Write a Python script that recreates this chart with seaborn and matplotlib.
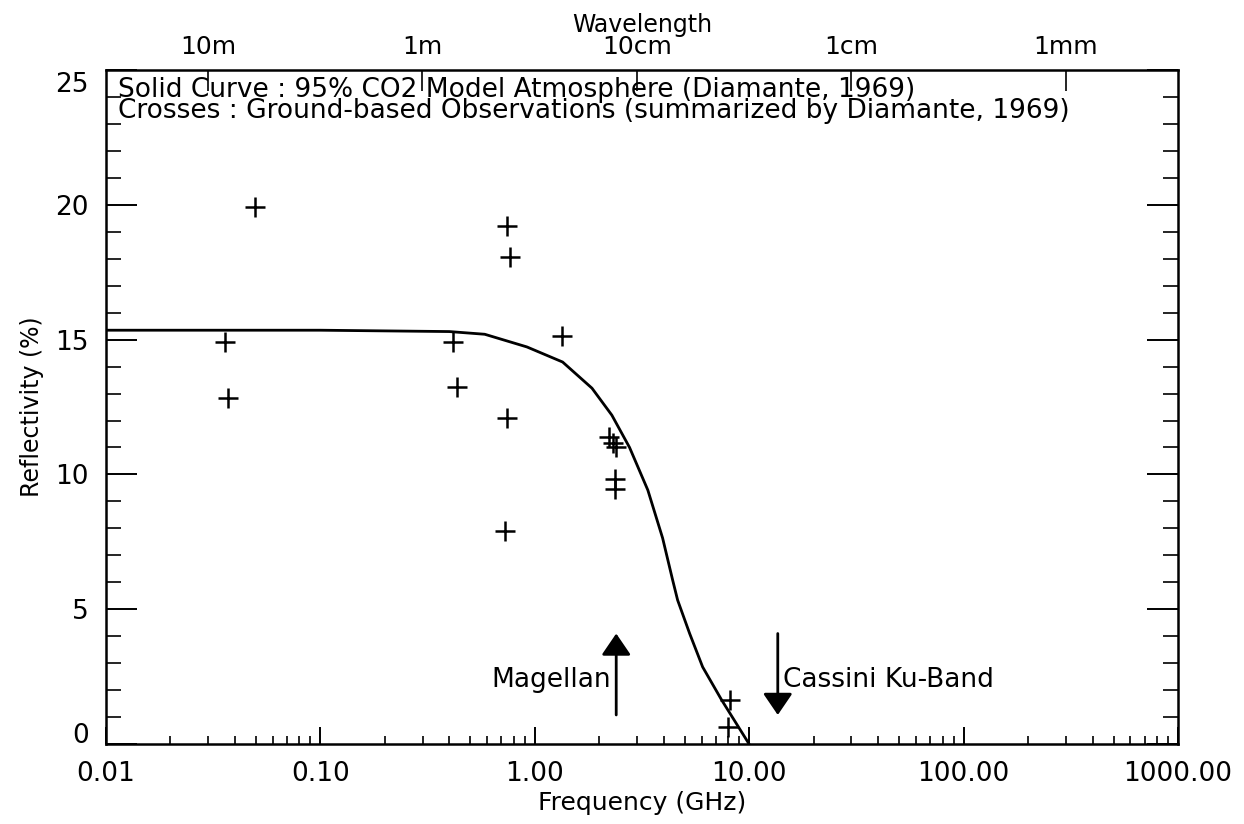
import numpy as np
import pandas as pd
import seaborn as sns
import matplotlib
matplotlib.use("Agg")
import matplotlib.pyplot as plt
from matplotlib.ticker import FixedLocator, NullLocator, LogLocator, FixedFormatter
from matplotlib.transforms import ScaledTranslation

# model curve (Diamante, 1969), 95% CO2 atmosphere
model_freq = [0.01, 0.1, 0.4, 0.585, 0.92, 1.35, 1.85, 2.29, 2.77, 3.37, 3.95, 4.4, 4.64, 5.28, 6.07, 7.45, 10.0]
model_refl = [15.35, 15.35, 15.3, 15.2, 14.73, 14.17, 13.2, 12.2, 11.0, 9.42, 7.64, 6.08, 5.34, 4.1, 2.86, 1.63, 0.0]

# ground-based observations
obs_freq = [0.036, 0.037, 0.0496, 0.415, 0.433, 0.74, 0.764, 0.74, 0.724, 1.336,
            2.21, 2.31, 2.39, 2.36, 2.36, 8.1, 8.0]
obs_refl = [14.9, 12.83, 19.92, 14.9, 13.24, 19.2, 18.06, 12.09, 7.9, 15.13,
            11.39, 11.16, 11.0, 9.83, 9.46, 1.63, 0.63]

# instrument frequencies (GHz)
magellan_f = 2.4
cassini_f = 13.6

# top axis: wavelength labels
wl_m = [10.0, 1.0, 0.1, 0.01, 0.001]
wl_labels = ["10m", "1m", "10cm", "1cm", "1mm"]
c_light = 0.2998  # m*GHz

x_ticks = [0.01, 0.1, 1, 10, 100, 1000]
x_ticklabels = ["0.01", "0.10", "1.00", "10.00", "100.00", "1000.00"]
y_ticks = [0, 5, 10, 15, 20, 25]

model_df = pd.DataFrame({"freq": model_freq, "refl": model_refl})
obs_df = pd.DataFrame({"freq": obs_freq, "refl": obs_refl})

sns.set_style("white")
plt.rcParams["font.family"] = ["DejaVu Sans"]
plt.rcParams.update({
    "axes.linewidth": 1.8,
    "axes.edgecolor": "black",
    "text.color": "black",
    "axes.labelcolor": "black",
    "xtick.color": "black",
    "ytick.color": "black",
})

fig = plt.figure(figsize=(12.44, 8.24), dpi=100)
ax = fig.add_axes([0.085, 0.097, 0.862, 0.818])

sns.lineplot(data=model_df, x="freq", y="refl", color="black", linewidth=2, ax=ax, sort=False)
sns.scatterplot(data=obs_df, x="freq", y="refl", marker="+", s=210, color="black",
                linewidth=1.8, ax=ax)

ax.set_xscale("log")
ax.set_xlim(0.01, 1000)
ax.set_ylim(0, 25)

ax.xaxis.set_major_locator(FixedLocator(x_ticks))
ax.xaxis.set_major_formatter(FixedFormatter(x_ticklabels))
ax.xaxis.set_minor_locator(LogLocator(base=10, subs=np.arange(2, 10)))
ax.xaxis.set_minor_formatter(plt.NullFormatter())
ax.set_yticks(y_ticks)
ax.set_yticks(np.arange(0, 26, 1), minor=True)

ax.tick_params(axis="x", which="major", direction="in", length=12, width=1.4,
               labelsize=19, pad=12, bottom=True, top=False)
ax.tick_params(axis="x", which="minor", direction="in", length=6, width=1.2,
               bottom=True, top=False)
ax.tick_params(axis="y", which="major", direction="in", length=22, width=1.4,
               labelsize=19, pad=12, left=True, right=True)
ax.tick_params(axis="y", which="minor", direction="in", length=11, width=1.2,
               left=True, right=True)

ax.set_xlabel("Frequency (GHz)", fontsize=18, labelpad=3)
ax.set_ylabel("Reflectivity (%)", fontsize=17, labelpad=8)

# IDL-style: end labels pulled inside the axis range
ylabels = ax.get_yticklabels()
ylabels[0].set_transform(ylabels[0].get_transform() + ScaledTranslation(0, 0.11, fig.dpi_scale_trans))
ylabels[-1].set_transform(ylabels[-1].get_transform() + ScaledTranslation(0, -0.12, fig.dpi_scale_trans))

# top wavelength axis
top = ax.twiny()
top.set_xscale("log")
top.set_xlim(ax.get_xlim())
top.xaxis.set_major_locator(FixedLocator([c_light / w for w in wl_m]))
top.xaxis.set_major_formatter(FixedFormatter(wl_labels))
top.xaxis.set_minor_locator(NullLocator())
top.tick_params(axis="x", which="major", direction="in", length=15, width=1.2,
                labelsize=18, pad=8)
top.set_xlabel("Wavelength", fontsize=17, labelpad=2)
for s in top.spines.values():
    s.set_visible(False)

# notes
ax.text(0.011, 0.99, "Solid Curve : 95% CO2 Model Atmosphere (Diamante, 1969)\n"
        "Crosses : Ground-based Observations (summarized by Diamante, 1969)",
        transform=ax.transAxes, fontsize=19, va="top", ha="left", linespacing=0.78)

# instrument arrows
arrow_kw = dict(arrowstyle="-|>,head_length=1.1,head_width=0.75", color="black",
                lw=2, mutation_scale=12, shrinkA=0, shrinkB=0)
ax.annotate("", xy=(magellan_f, 4.1), xytext=(magellan_f, 1.08), arrowprops=arrow_kw)
ax.annotate("", xy=(cassini_f, 1.08), xytext=(cassini_f, 4.1), arrowprops=arrow_kw)
ax.text(magellan_f / 1.06, 2.37, "Magellan", fontsize=19, ha="right", va="center")
ax.text(cassini_f * 1.06, 2.37, "Cassini Ku-Band", fontsize=19, ha="left", va="center")

fig.savefig("out.png", dpi=100)
